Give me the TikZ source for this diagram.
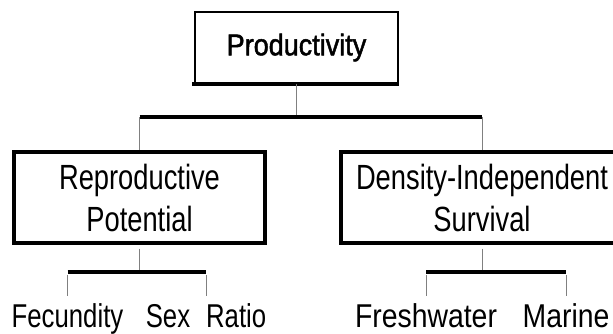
\documentclass[tikz,border=0pt]{standalone}
\usepackage{fontspec}
\setmainfont{Liberation Sans}
\newfontfamily\boxfont{Liberation Sans}[FakeStretch=0.78]
\newfontfamily\leaffont{Liberation Sans}[FakeStretch=0.78]
\newfontfamily\wideleaffont{Liberation Sans}[FakeStretch=0.86]
\newfontfamily\headfont{Liberation Sans}[FakeStretch=0.9,FakeBold=1.6]
\begin{document}
\begin{tikzpicture}[x=1pt,y=-1pt,
        box/.style={draw, line width=3.2pt, minimum width=#1, minimum height=91pt,
            inner sep=0pt, align=center, font=\boxfont\fontsize{35}{42}\selectfont},
        topbox/.style={draw, line width=2pt, minimum width=203pt, minimum height=71pt,
            inner sep=0pt, font=\headfont\fontsize{30}{34}\selectfont},
        leaf/.style={anchor=base, inner sep=2pt, font=\leaffont\fontsize{33}{36}\selectfont},
        wideleaf/.style={leaf, font=\wideleaffont\fontsize{33}{36}\selectfont},
        crossbar/.style={line width=3.4pt},
        stem/.style={gray, line width=1pt}]
        \useasboundingbox (0,0) rectangle (613,333);

        \node[topbox] (prod) at (296.5,47.5) {Productivity};
        \node[box=251pt] (repro) at (139.5,197.5) {Reproductive\\Potential};
        \node[box=282pt] (surv) at (482,197.5) {Density-Independent\\Survival};

        \node[leaf] (fec) at (67.5,327) {Fecundity};
        \node[leaf] (sex) at (206,327) {Sex\hspace{16pt}Ratio};
        \node[wideleaf] (fresh) at (426,327) {Freshwater};
        \node[wideleaf] (mar) at (566,327) {Marine};

        % bars
        \coordinate (topl) at (repro.north |- 0,117);
        \coordinate (topr) at (surv.north |- 0,117);
        \coordinate (lowl) at (fec.north |- 0,272);
        \coordinate (lowr) at (sex.north |- 0,272);
        \coordinate (lowfl) at (fresh.north |- 0,272);
        \coordinate (lowfr) at (mar.north |- 0,272);

        \draw[crossbar] ([xshift=-2pt]prod.south west) -- (prod.south east);
        \draw[stem] (prod.south) -- (prod.south |- topl);
        \draw[crossbar] (topl) -- (topr);
        \draw[stem] (topl) -- (repro.north);
        \draw[stem] (topr) -- (surv.north);

        \draw[stem, shorten <=4pt] (repro.south) -- (repro.south |- lowl);
        \draw[crossbar] (lowl) -- (lowr);
        \draw[stem, shorten <=3pt, shorten >=5pt] (lowl) -- (fec.north);
        \draw[stem, shorten <=3pt, shorten >=5pt] (lowr) -- (sex.north);

        \draw[stem, shorten <=4pt] (surv.south) -- (surv.south |- lowfl);
        \draw[crossbar] (lowfl) -- (lowfr);
        \draw[stem, shorten <=3pt, shorten >=5pt] (lowfl) -- (fresh.north);
        \draw[stem, shorten <=3pt, shorten >=5pt] (lowfr) -- (mar.north);
    \end{tikzpicture}
\end{document}
